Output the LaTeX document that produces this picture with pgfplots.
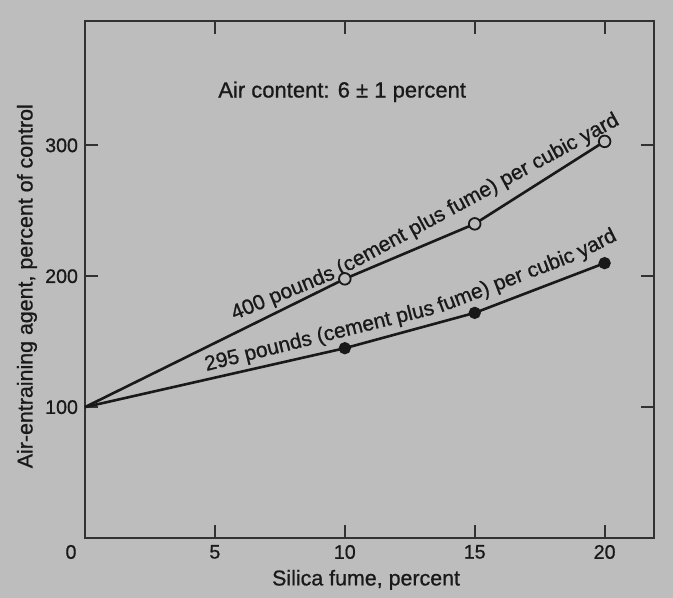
\documentclass[border=0pt]{standalone}
\usepackage{pgfplots}
\pgfplotsset{compat=1.18}
\usepackage{fontspec}
\setmainfont{Liberation Sans}[FakeBold=0.8]
\definecolor{bg}{RGB}{189,189,189}
\definecolor{ink}{RGB}{25,25,25}
\definecolor{axc}{RGB}{50,50,50}
\begin{document}
\begin{tikzpicture}
\fill[bg] (-42.5pt,-30pt) rectangle (294pt,269pt);
\begin{axis}[
  at={(0pt,0pt)}, anchor=south west,
  scale only axis, width=284.5pt, height=258.5pt,
  xmin=0, xmax=21.9, ymin=0, ymax=395,
  xtick={5,10,15,20}, ytick={100,200,300},
  extra x ticks={0},
  extra x tick style={xticklabel style={xshift=-7pt}},
  tick align=inside, major tick length=6.5pt,
  axis line style={axc, line width=1.3pt},
  tick style={axc, line width=1pt},
  ticklabel style={font=\fontsize{9.8}{11}\selectfont, text=ink},
  /pgf/number format/assume math mode=true,
  xlabel={Silica fume, percent},
  ylabel={Air-entraining agent, percent of control},
  label style={font=\fontsize{10.7}{12}\selectfont, text=ink},
  xlabel style={at={(axis description cs:0.494,-0.081)}, anchor=center},
  ylabel style={at={(axis description cs:-0.102,0.487)}, anchor=center},
  clip=false,
]
% 400 pounds per cubic yard (open circles)
\addplot[ink, line width=1.3pt, mark=*, mark indices={2,3,4},
  mark options={draw=ink, fill=bg, line width=0.9pt, scale=1.45}]
  coordinates {(0,100) (10,198) (15,240) (20,303)};
% 295 pounds per cubic yard (filled circles)
\addplot[ink, line width=1.3pt, mark=*, mark indices={2,3,4},
  mark options={draw=ink, fill=ink, scale=1.2}]
  coordinates {(0,100) (10,145) (15,172) (20,210)};
% labels following the curves
\tikzset{lbl/.style={font=\fontsize{10.5}{12}\selectfont, text=ink, anchor=base west, inner sep=0pt}}
\node[lbl, rotate=22.4] at (axis cs:5.742,166.4) {400 pounds};
\node[lbl, rotate=28.5] at (axis cs:9.85,200.4) {(cement plus fume) per cubic yard};
\node[lbl, rotate=14] at (axis cs:4.663,127.5) {295 pounds (cement plus};
\node[lbl, rotate=21] at (axis cs:13.68,172.1) {fume) per cubic};
\node[lbl, rotate=27] at (axis cs:19.09,213.5) {yard};
\node[font=\fontsize{11}{13}\selectfont, text=ink] at (axis description cs:0.452,0.863)
  {Air content: 6 ± 1 percent};
\end{axis}
\end{tikzpicture}
\end{document}
